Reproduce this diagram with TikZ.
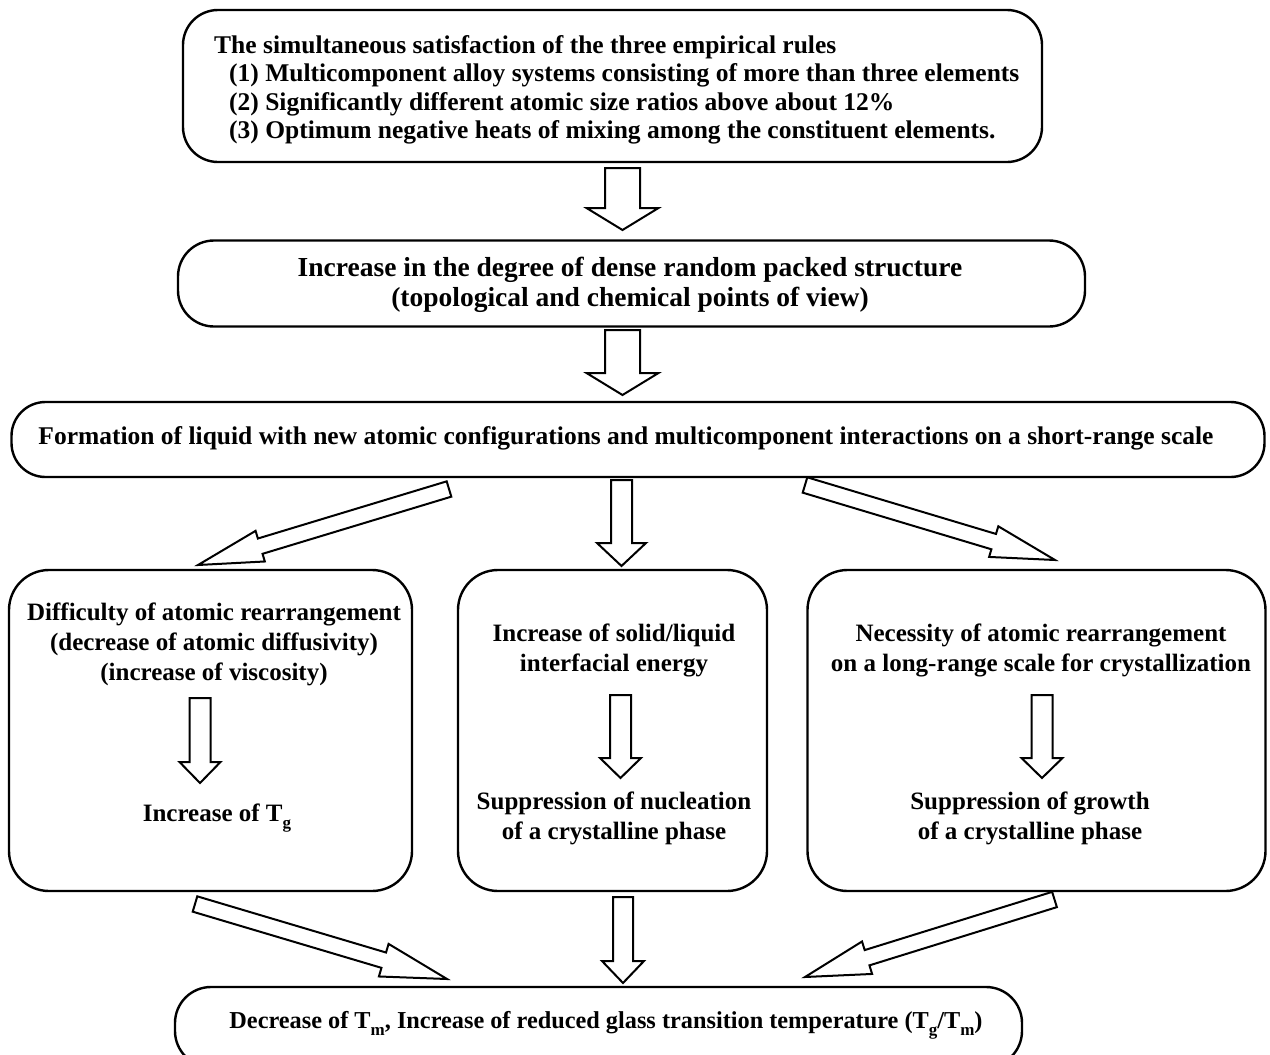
\documentclass[tikz,border=0pt]{standalone}
\usepackage{fontspec}
\setmainfont{Liberation Serif}
\usetikzlibrary{calc}
\newcommand\sbs[1]{\raisebox{-0.3em}{\fontsize{17}{17}\selectfont #1}}
\newcommand\blockarrow[6]{%
  \coordinate (#1-h) at ($(#3)!#6!(#2)$);
  \draw[barrowline] ($(#2)!#4!90:(#3)$) -- ($(#1-h)!#4!90:(#3)$) -- ($(#1-h)!#5!90:(#3)$) -- (#3)
    -- ($(#1-h)!#5!-90:(#3)$) -- ($(#1-h)!#4!-90:(#3)$) -- ($(#2)!#4!-90:(#3)$) -- cycle;
}
\tikzset{
  box/.style={draw, line width=2.4pt, rounded corners=#1, inner sep=0pt, rectangle},
  txt/.style={font=\bfseries\fontsize{25}{30}\selectfont, align=center, inner sep=0pt},
  barrowline/.style={draw, line width=2pt, fill=white, line join=miter},
}
\begin{document}
\begin{tikzpicture}[x=1pt,y=-1pt]
\fill[white] (0,0) rectangle (1270,1055);
\useasboundingbox (0,0) rectangle (1270,1055);
\clip (0,0) rectangle (1270,1055);

% boxes
\node[box=35pt, minimum width=859pt, minimum height=152pt] (top) at (612.5,86) {};
\node[box=36pt, minimum width=907pt, minimum height=86pt] (b2) at (631.5,283.5) {};
\node[box=34pt, minimum width=1253pt, minimum height=75pt] (b3) at (638,439.5) {};
\node[box=40pt, minimum width=403pt, minimum height=321pt] (bl) at (210.5,730.5) {};
\node[box=40pt, minimum width=309pt, minimum height=321pt] (bm) at (612.5,730.5) {};
\node[box=40pt, minimum width=458pt, minimum height=321pt] (br) at (1036.5,730.5) {};
\node[box=36pt, minimum width=847pt, minimum height=80pt] (bb) at (598.5,1027) {};

% texts
\node[txt, align=left, font=\bfseries\fontsize{25.5}{28.5}\selectfont, anchor=west] (toptext) at (214,90)
 {The simultaneous satisfaction of the three empirical rules\\
  \hspace*{15pt}(1) Multicomponent alloy systems consisting of more than three elements\\
  \hspace*{15pt}(2) Significantly different atomic size ratios above about 12\%\\
  \hspace*{15pt}(3) Optimum negative heats of mixing among the constituent elements.};
\node[txt, font=\bfseries\fontsize{27.5}{30}\selectfont] (b2text) at (630,285) {Increase in the degree of dense random packed structure\\(topological and chemical points of view)};
\node[txt, font=\bfseries\fontsize{25.5}{30}\selectfont] (b3text) at (626,438) {Formation of liquid with new atomic configurations and multicomponent interactions on a short-range scale};
\node[txt] (bltext1) at (214,644) {Difficulty of atomic rearrangement\\(decrease of atomic diffusivity)\\(increase of viscosity)};
\node[txt] (bltext2) at (217,818) {Increase of T\sbs{g}};
\node[txt] (bmtext1) at (614,650) {Increase of solid/liquid\\interfacial energy};
\node[txt] (bmtext2) at (614,818) {Suppression of nucleation\\of a crystalline phase};
\node[txt] (brtext1) at (1041,650) {Necessity of atomic rearrangement\\on a long-range scale for crystallization};
\node[txt] (brtext2) at (1030,818) {Suppression of growth\\of a crystalline phase};
\node[txt, font=\bfseries\fontsize{24.3}{30}\selectfont] (bbtext) at (606,1025) {Decrease of T\sbs{m}, Increase of reduced glass transition temperature (T\sbs{g}/T\sbs{m})};

% arrow end points
\coordinate (a1s) at (622.5,168);  \coordinate (a1e) at (622.5,230);
\coordinate (a2s) at (622.5,330);  \coordinate (a2e) at (622.5,395);
\coordinate (d1s) at (449,489);    \coordinate (d1e) at (198,565);
\coordinate (m1s) at (621.5,480);  \coordinate (m1e) at (621.5,566);
\coordinate (d2s) at (805,485);    \coordinate (d2e) at (1055,560);
\coordinate (ils) at (200,698);    \coordinate (ile) at (200,783);
\coordinate (ims) at (620.5,695);  \coordinate (ime) at (620.5,778);
\coordinate (irs) at (1042,695);   \coordinate (ire) at (1042,778);
\coordinate (d3s) at (195,904);    \coordinate (d3e) at (447,979);
\coordinate (m2s) at (623,897);    \coordinate (m2e) at (623,983);
\coordinate (d4s) at (1054.5,899.5); \coordinate (d4e) at (805,977);

\blockarrow{a1}{a1s}{a1e}{17.5pt}{36pt}{22pt}
\blockarrow{a2}{a2s}{a2e}{17.5pt}{36pt}{22pt}
\blockarrow{d1}{d1s}{d1e}{8pt}{16pt}{65pt}
\blockarrow{m1}{m1s}{m1e}{10.5pt}{24.5pt}{23pt}
\blockarrow{d2}{d2s}{d2e}{8pt}{16pt}{64pt}
\blockarrow{il}{ils}{ile}{10.5pt}{20.5pt}{21pt}
\blockarrow{im}{ims}{ime}{10.5pt}{20.5pt}{20pt}
\blockarrow{ir}{irs}{ire}{10.5pt}{20.5pt}{20pt}
\blockarrow{d3}{d3s}{d3e}{8pt}{17pt}{66pt}
\blockarrow{m2}{m2s}{m2e}{10pt}{21pt}{22pt}
\blockarrow{d4}{d4s}{d4e}{8pt}{17pt}{65pt}
\end{tikzpicture}
\end{document}
